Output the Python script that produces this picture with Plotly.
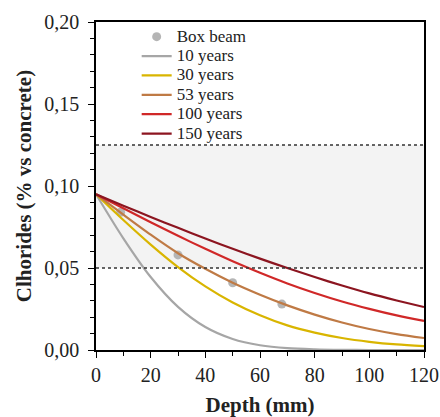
import plotly.graph_objects as go

depth = [0, 10, 20, 30, 40, 50, 60, 70, 80, 90, 100, 110, 120]
y10 = [0.095, 0.0681, 0.0445, 0.0263, 0.0140, 0.0067, 0.0029, 0.0011, 0.0004, 0.0001, 0.0, 0.0, 0.0]
y30 = [0.095, 0.0793, 0.0643, 0.0506, 0.0388, 0.0290, 0.0212, 0.0150, 0.0106, 0.0073, 0.0050, 0.0034, 0.0024]
y53 = [0.095, 0.0825, 0.0703, 0.0590, 0.0495, 0.0410, 0.0337, 0.0272, 0.0216, 0.0168, 0.0128, 0.0097, 0.0073]
y100 = [0.095, 0.0864, 0.0779, 0.0696, 0.0617, 0.0541, 0.0471, 0.0406, 0.0348, 0.0296, 0.0251, 0.0211, 0.0177]
y150 = [0.095, 0.0880, 0.0811, 0.0745, 0.0680, 0.0617, 0.0557, 0.0500, 0.0445, 0.0393, 0.0345, 0.0302, 0.0262]

box_x = [9, 30, 50, 68]
box_y = [0.084, 0.058, 0.041, 0.028]

series = [
    ("10 years", y10, "#a6a6a6"),
    ("30 years", y30, "#d9b500"),
    ("53 years", y53, "#bf7a45"),
    ("100 years", y100, "#d02828"),
    ("150 years", y150, "#8c1520"),
]

band_low, band_high = 0.05, 0.125


def lg(txt):
    return "<span style='font-size:17px'>" + txt + "</span>"


fig = go.Figure()
fig.add_trace(go.Scatter(x=box_x, y=box_y, mode="markers", name=lg("Box beam"),
                         marker=dict(color="#b5b5b5", size=9)))
for name, ys, col in series:
    fig.add_trace(go.Scatter(x=depth, y=ys, mode="lines", name=lg(name),
                             line=dict(color=col, width=2.2, shape="spline", smoothing=0.8)))

fig.add_shape(type="rect", xref="paper", yref="y", x0=0, x1=1, y0=band_low, y1=band_high,
              fillcolor="#f3f3f3", line=dict(width=0), layer="below")
for yv in (band_low, band_high):
    fig.add_shape(type="line", xref="paper", yref="y", x0=0, x1=1, y0=yv, y1=yv,
                  line=dict(color="#333333", width=1.3, dash="dot"), layer="above")

serif = "Liberation Serif"
fig.update_layout(
    width=440, height=417,
    margin=dict(l=96, r=16, t=22, b=67),
    paper_bgcolor="white", plot_bgcolor="white",
    separators=",.",
    font=dict(family=serif, color="#222222", size=20),
    showlegend=True,
    legend=dict(x=0.124, y=1.0, xanchor="left", yanchor="top", bgcolor="rgba(0,0,0,0)",
                font=dict(family=serif, size=12.6, color="#222222"),
                itemwidth=30, tracegroupgap=0),
)
fig.update_xaxes(range=[0, 120], tickvals=[0, 20, 40, 60, 80, 100, 120], showgrid=False,
                 zeroline=False, showline=True, linecolor="black", linewidth=1.5, mirror=True,
                 ticks="outside", ticklen=6, tickcolor="black", automargin=False,
                 minor=dict(dtick=10, ticks="outside", ticklen=4, tickcolor="black"),
                 title=dict(text="<b>Depth (mm)</b>", font=dict(family=serif, size=21), standoff=18),
                 tickfont=dict(family=serif, size=20))
fig.update_yaxes(range=[0, 0.2], dtick=0.05, tickformat=".2f", showgrid=False,
                 zeroline=False, showline=True, linecolor="black", linewidth=1.5, mirror=True,
                 ticks="outside", ticklen=6, tickcolor="black", automargin=False,
                 ticklabelstandoff=5,
                 minor=dict(dtick=0.01, ticks="outside", ticklen=4, tickcolor="black"),
                 title=dict(text="<b>Clhorides (% vs concrete)</b>", font=dict(family=serif, size=21), standoff=7),
                 tickfont=dict(family=serif, size=20))

fig.write_html("out.html")
